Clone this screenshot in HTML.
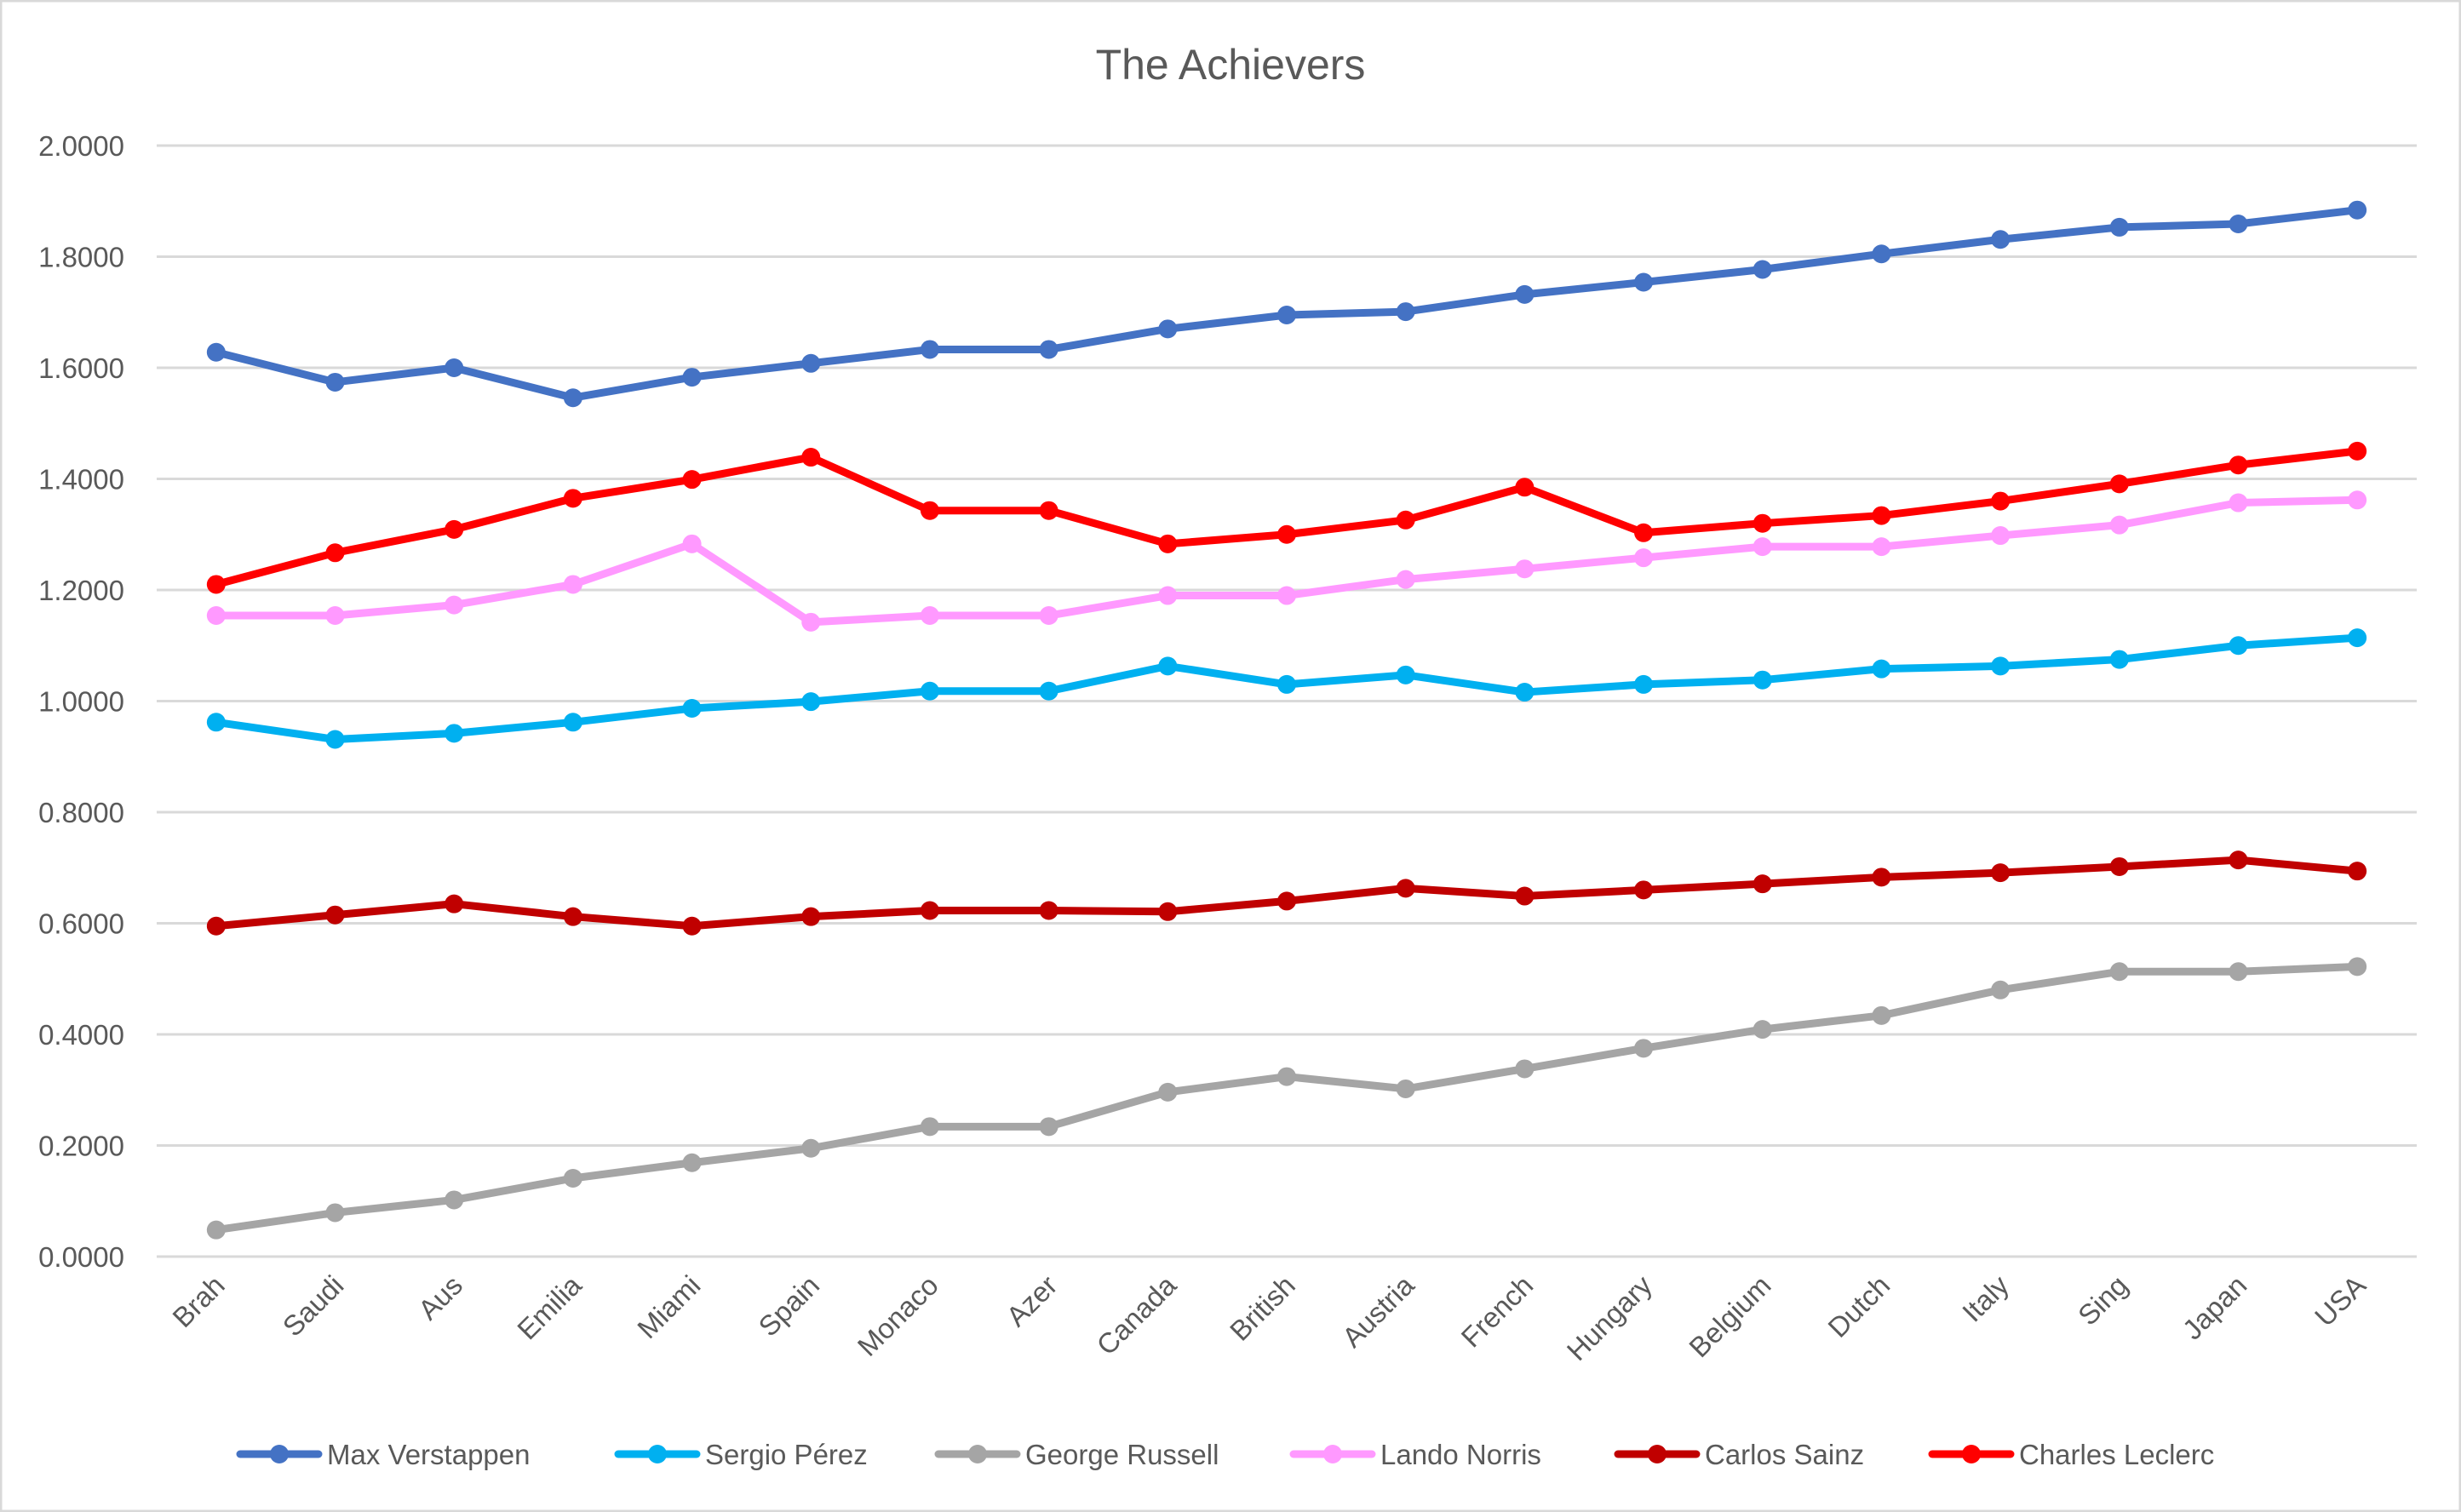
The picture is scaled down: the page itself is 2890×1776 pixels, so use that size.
<!DOCTYPE html>
<html><head><meta charset="utf-8"><style>
html,body{margin:0;padding:0;background:#fff;}
svg{display:block;font-family:"Liberation Sans",sans-serif;}
</style></head><body>
<svg id="chart" width="2890" height="1776" viewBox="0 0 2890 1776" xmlns="http://www.w3.org/2000/svg">
<rect x="1" y="1" width="2888" height="1774" fill="#fff" stroke="#d9d9d9" stroke-width="3"/>
<text x="1445" y="93" text-anchor="middle" font-size="50" fill="#595959">The Achievers</text>
<g id="grid"></g><g id="yt"></g><g id="xt"></g><g id="series"></g><g id="legend"></g>
</svg>
<script>
const categories=["Brah","Saudi","Aus","Emilia","Miami","Spain","Monaco","Azer","Canada","British","Austria","French","Hungary","Belgium","Dutch","Italy","Sing","Japan","USA"];
const yTicks=[0,0.2,0.4,0.6,0.8,1.0,1.2,1.4,1.6,1.8,2.0];
const seriesNames=["Max Verstappen","Sergio Pérez","George Russell","Lando Norris","Carlos Sainz","Charles Leclerc"];
const seriesColors=["#4472C4","#00B0F0","#A5A5A5","#FF99FF","#C00000","#FF0000"];
const maxV=[1.628,1.574,1.600,1.546,1.583,1.608,1.633,1.633,1.670,1.695,1.701,1.732,1.754,1.777,1.805,1.831,1.853,1.859,1.884];
const perez=[0.962,0.931,0.942,0.962,0.987,0.999,1.018,1.018,1.063,1.030,1.047,1.016,1.030,1.038,1.058,1.063,1.075,1.100,1.114];
const russell=[0.048,0.079,0.102,0.141,0.169,0.195,0.234,0.234,0.296,0.324,0.302,0.338,0.375,0.409,0.434,0.480,0.513,0.513,0.522];
const norris=[1.154,1.154,1.173,1.210,1.283,1.142,1.154,1.154,1.190,1.190,1.219,1.238,1.258,1.278,1.278,1.298,1.317,1.357,1.362];
const sainz=[0.595,0.615,0.635,0.612,0.595,0.612,0.623,0.623,0.621,0.640,0.663,0.649,0.660,0.671,0.683,0.691,0.702,0.714,0.694];
const leclerc=[1.210,1.267,1.309,1.365,1.399,1.439,1.343,1.343,1.283,1.300,1.326,1.385,1.303,1.320,1.334,1.360,1.391,1.425,1.450];
const seriesData=[maxV,perez,russell,norris,sainz,leclerc];

const NS="http://www.w3.org/2000/svg";
const L=184,R=2838,T=171,B=1476;
const step=(R-L)/categories.length;
function xS(i){return L+step*(i+0.5);}
function yS(v){return B-(v/2.0)*(B-T);}
function mk(tag,attrs,parent){const e=document.createElementNS(NS,tag);for(const k in attrs)e.setAttribute(k,attrs[k]);parent.appendChild(e);return e;}

const grid=document.getElementById('grid'),yt=document.getElementById('yt'),xt=document.getElementById('xt'),sg=document.getElementById('series'),lg=document.getElementById('legend');
yTicks.forEach(t=>{
  const l=mk('line',{x1:L,x2:R,y1:yS(t),y2:yS(t),stroke:'#d9d9d9','stroke-width':3},grid);
  
  
  const tx=mk('text',{x:146,y:yS(t)+12,'text-anchor':'end','font-size':33,fill:'#595959'},yt);
  tx.textContent=t.toFixed(4);
  
  
});
categories.forEach((c,i)=>{
  const x=xS(i)+12,y=1512;
  const tx=mk('text',{x:x,y:y,'text-anchor':'end','font-size':33,fill:'#595959',transform:`rotate(-45 ${x} ${y})`},xt);
  tx.textContent=c;
  
  
});
seriesData.forEach((d,s)=>{
  const g=mk('g',{},sg);
  
  
  const pts=d.map((v,i)=>xS(i)+','+yS(v)).join(' ');
  const pl=mk('polyline',{points:pts,fill:'none',stroke:seriesColors[s],'stroke-width':9,'stroke-linejoin':'round','stroke-linecap':'round'},g);
  
  
  d.forEach((v,i)=>{
    const c=mk('circle',{cx:xS(i),cy:yS(v),r:11,fill:seriesColors[s]},g);
    
    
  });
});
const legX=[282,726,1102,1519,1900,2269];
seriesNames.forEach((n,s)=>{
  const g=mk('g',{},lg);
  
  
  const x=legX[s],y=1708;
  mk('line',{x1:x,x2:x+92,y1:y,y2:y,stroke:seriesColors[s],'stroke-width':9,'stroke-linecap':'round'},g);
  mk('circle',{cx:x+46,cy:y,r:11,fill:seriesColors[s]},g);
  const tx=mk('text',{x:x+102,y:y+12,'font-size':33,fill:'#595959'},g);
  tx.textContent=n;
  
  
});
</script>
</body></html>
